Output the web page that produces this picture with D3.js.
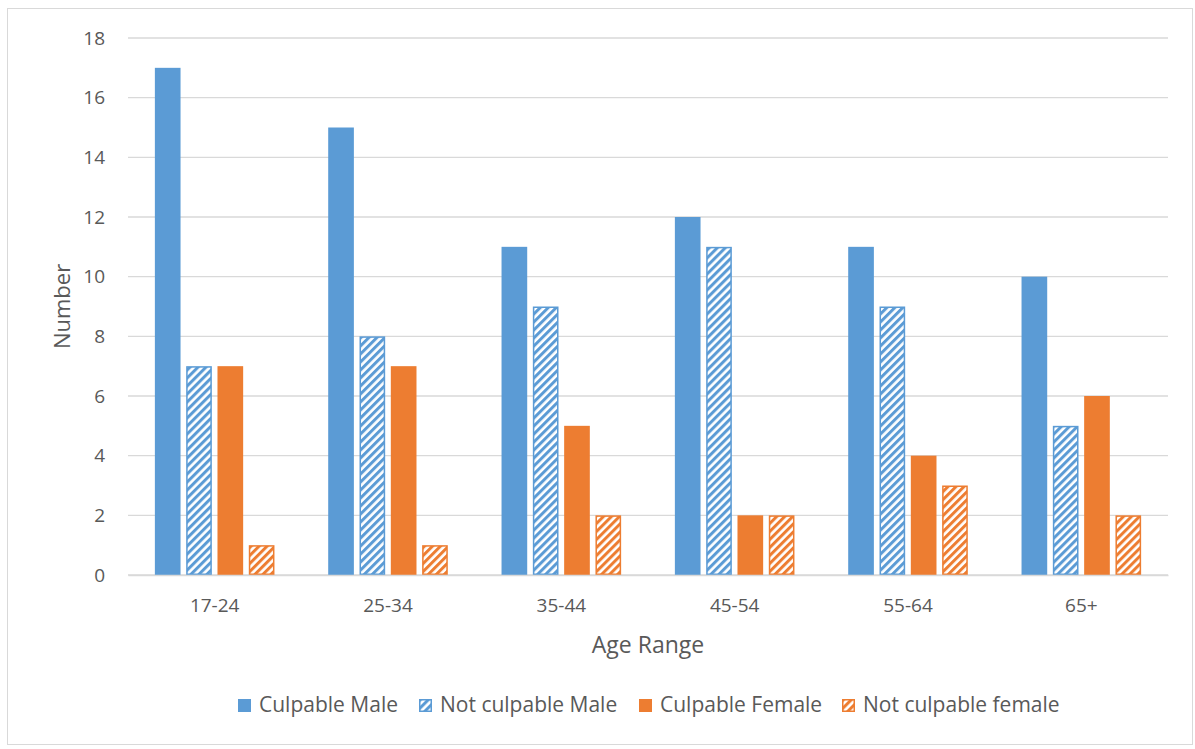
<!DOCTYPE html>
<html><head><meta charset="utf-8">
<script src="https://cdn.jsdelivr.net/npm/d3@7"></script>
<style>body{margin:0;background:#fff;} svg{display:block;font-family:"Open Sans",sans-serif;}</style>
</head><body>
<script>
const categories = ["17-24","25-34","35-44","45-54","55-64","65+"];
const seriesNames = ["Culpable Male","Not culpable Male","Culpable Female","Not culpable female"];
const culpableMale = [17,15,11,12,11,10];
const notCulpableMale = [7,8,9,11,9,5];
const culpableFemale = [7,7,5,2,4,6];
const notCulpableFemale = [1,1,2,2,3,2];
const yTicks = [0,2,4,6,8,10,12,14,16,18];

(function(){
const seriesValues = [culpableMale, notCulpableMale, culpableFemale, notCulpableFemale];
const colors = ["#5B9BD5","#5B9BD5","#ED7D31","#ED7D31"];
const hatched = [false,true,false,true];

const W=1195,H=749;
const svg=d3.select("body").append("svg").attr("width",W).attr("height",H);
const defs=svg.append("defs");
["blue","orange"].forEach((n,i)=>{
  const c = i===0?"#5B9BD5":"#ED7D31";
  const p=defs.append("pattern").attr("id","hatch-"+n).attr("patternUnits","userSpaceOnUse")
    .attr("width",5.66).attr("height",5.66).attr("patternTransform","rotate(45)");
  p.append("rect").attr("width",5.66).attr("height",5.66).attr("fill","#fff");
  p.append("rect").attr("width",3).attr("height",5.66).attr("fill",c);
});

svg.append("rect").attr("x",7.5).attr("y",8.5).attr("width",1185).attr("height",736)
  .attr("fill","#fff").attr("stroke","#D9D9D9");

const pl=128,pr=1168,pt=38,pb=575;
const x=d3.scaleBand().domain(categories).range([pl,pr]).paddingInner(0.31).paddingOuter(0.155);
const xs=d3.scaleBand().domain(d3.range(4)).range([0,x.bandwidth()]).paddingInner(0.18).paddingOuter(0);
const y=d3.scaleLinear().domain([0,18]).range([pb,pt]);

svg.append("g").selectAll("line").data(yTicks).join("line")
  .attr("x1",pl).attr("x2",pr).attr("y1",d=>y(d)).attr("y2",d=>y(d))
  .attr("stroke","#D9D9D9").attr("stroke-width",1.3);

const yAxis=d3.axisLeft(y).tickValues(yTicks).tickSize(0).tickPadding(23);
const gy=svg.append("g").attr("transform",`translate(${pl},0)`).call(yAxis);
gy.select(".domain").remove();
gy.selectAll("text").attr("fill","#595959").style("font-size","19px").style("font-family","Open Sans");

const groups=svg.append("g").selectAll("g").data(categories).join("g")
  .attr("transform",d=>`translate(${x(d)},0)`);
groups.each(function(cat,ci){
  const g=d3.select(this);
  seriesValues.forEach((vals,si)=>{
    const v=vals[ci];
    if(hatched[si]){
      g.append("rect").attr("x",xs(si)+0.75).attr("y",y(v)+0.75)
        .attr("width",xs.bandwidth()-1.5).attr("height",y(0)-y(v)-1.5)
        .attr("fill",`url(#hatch-${si===1?"blue":"orange"})`)
        .attr("stroke",colors[si]).attr("stroke-width",1.5);
    } else {
      g.append("rect").attr("x",xs(si)).attr("y",y(v))
        .attr("width",xs.bandwidth()).attr("height",y(0)-y(v))
        .attr("fill",colors[si]);
    }
  });
});

const xAxis=d3.axisBottom(x).tickSize(0).tickPadding(24);
const gx=svg.append("g").attr("transform",`translate(0,${pb})`).call(xAxis);
gx.select(".domain").attr("stroke","#D9D9D9").attr("stroke-width",1.3);
gx.selectAll("text").attr("fill","#595959").style("font-size","19px").style("font-family","Open Sans");

svg.append("text").attr("x",(pl+pr)/2).attr("y",653).attr("text-anchor","middle")
  .attr("fill","#595959").style("font-size","23px").text("Age Range");
svg.append("text").attr("transform",`translate(70,${(pt+pb)/2}) rotate(-90)`).attr("text-anchor","middle")
  .attr("fill","#595959").style("font-size","22px").text("Number");

const legendX=[238,419,639,842];
const lg=svg.append("g").selectAll("g").data(seriesNames).join("g")
  .attr("transform",(d,i)=>`translate(${legendX[i]},699)`);
lg.append("rect").attr("x",(d,i)=>hatched[i]?0.75:0).attr("y",(d,i)=>hatched[i]?0.75:0)
  .attr("width",(d,i)=>hatched[i]?11.5:13).attr("height",(d,i)=>hatched[i]?11.5:13)
  .attr("fill",(d,i)=>hatched[i]?`url(#hatch-${i===1?"blue":"orange"})`:colors[i])
  .attr("stroke",(d,i)=>hatched[i]?colors[i]:"none").attr("stroke-width",1.5);
lg.append("text").attr("x",21).attr("y",13).attr("fill","#595959").style("font-size","21px").text(d=>d);
})();
</script>
</body></html>
